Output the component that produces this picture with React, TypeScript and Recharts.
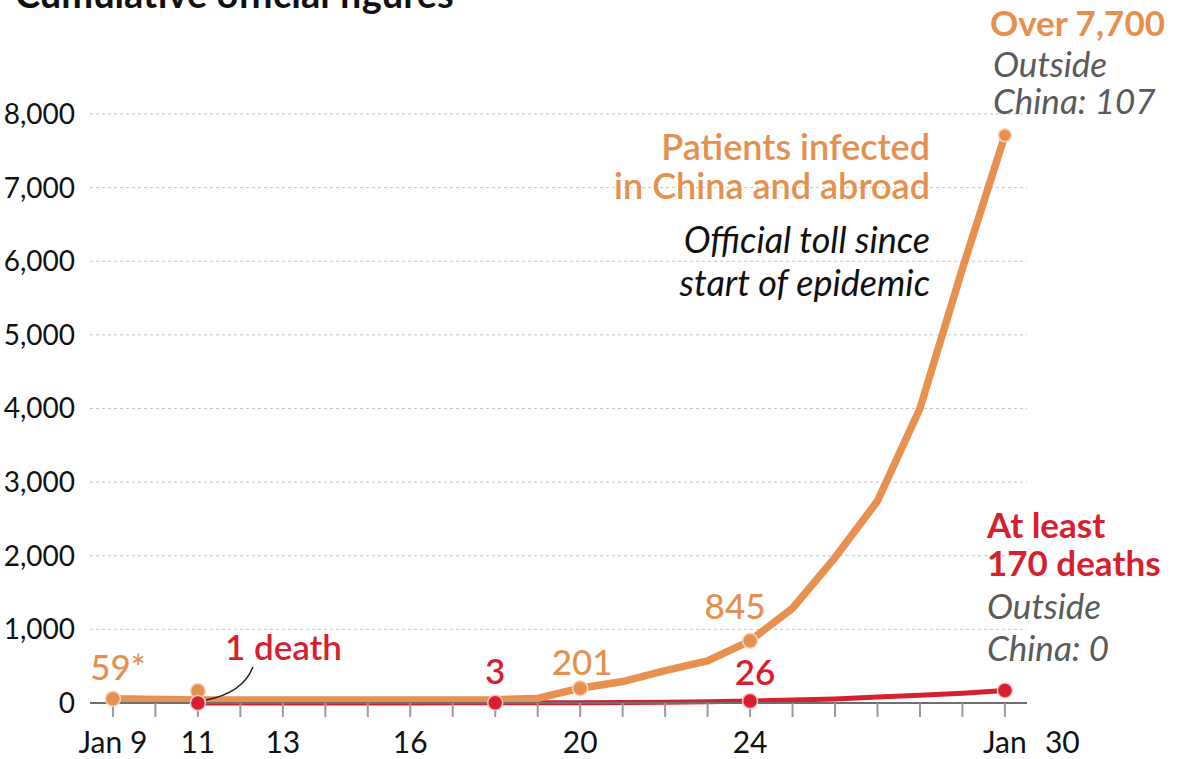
import React from 'react';
import { LineChart, Line, XAxis, YAxis, CartesianGrid } from 'recharts';

// ---------- data ----------
const days: number[] = [9, 10, 11, 12, 13, 14, 15, 16, 17, 18, 19, 20, 21, 22, 23, 24, 25, 26, 27, 28, 29, 30];
const infected: (number | null)[] = [59, null, 41, 41, 41, 41, 41, 41, 41, 45, 62, 201, 291, 440, 571, 845, 1287, 1975, 2744, 4000, 5900, 7711];
const deaths: (number | null)[] = [null, null, 1, 1, 1, 1, 1, 1, 2, 3, 3, 4, 6, 9, 17, 26, 41, 56, 80, 106, 132, 170];

const yTicks: number[] = [0, 1000, 2000, 3000, 4000, 5000, 6000, 7000, 8000];
const xLabelDays: number[] = [9, 11, 13, 16, 20, 24, 30];
const xLabelTexts: string[] = ['Jan 9', '11', '13', '16', '20', '24', 'Jan 30'];

const orangeDotDays: number[] = [9, 11, 20, 24, 30];
const redDotDays: number[] = [11, 18, 24, 30];

const orangeLabelDays: number[] = [9, 20, 24];
const orangeLabelTexts: string[] = ['59*', '201', '845'];
const redLabelDays: number[] = [11, 18, 24];
const redLabelTexts: string[] = ['1 death', '3', '26'];

const titleText = 'Cumulative official figures';
const infectedEndLines: string[] = ['Over 7,700', 'Outside', 'China: 107'];
const deathsEndLines: string[] = ['At least', '170 deaths', 'Outside', 'China: 0'];
const seriesNote1: string[] = ['Patients infected', 'in China and abroad'];
const seriesNote2: string[] = ['Official toll since', 'start of epidemic'];

const data = days.map((d, i) => ({ day: d, infected: infected[i], deaths: deaths[i] }));

// ---------- styles ----------
const ORANGE = '#E8904F';
const ORANGE_TEXT = '#E5904F';
const RED = '#D71F2F';
const GREY = '#5A5A5A';
const FONT = 'Lato, "Noto Sans", sans-serif';

const orangeLabelOffsets: Record<number, [number, number]> = { 9: [5, -19], 20: [2, -13], 24: [-15, -22] };
const redLabelOffsets: Record<number, [number, number, string]> = {
  11: [27, -43, 'start'],
  18: [0, -19, 'middle'],
  24: [5, -16, 'middle'],
};

function OrangeDot(props: any) {
  const { cx, cy, payload, index } = props;
  const key = `od-${index}`;
  if (cx == null || cy == null || payload == null || payload.infected == null) return <g key={key} />;
  const day = payload.day;
  if (!orangeDotDays.includes(day)) return <g key={key} />;
  const y = day === 11 ? cy - 9 : cy;
  const li = orangeLabelDays.indexOf(day);
  return (
    <g key={key}>
      <circle cx={cx} cy={y} r={day === 30 ? 6.5 : 7.5} fill={ORANGE} stroke="#f6d9c3" strokeWidth={1.5} />
      {li >= 0 && (
        <text
          x={cx + orangeLabelOffsets[day][0]}
          y={cy + orangeLabelOffsets[day][1]}
          textAnchor="middle"
          fontFamily={FONT}
          fontSize={35}
          fontWeight={500}
          fill={ORANGE_TEXT}
        >
          {orangeLabelTexts[li]}
        </text>
      )}
      {day === 30 && (
        <g fontFamily={FONT} fontSize={35}>
          <text x={cx - 15} y={cy - 99} fill={ORANGE_TEXT} fontWeight={700}>{infectedEndLines[0]}</text>
          <text x={cx - 12} y={cy - 58} fill={GREY} fontStyle="italic">{infectedEndLines[1]}</text>
          <text x={cx - 12} y={cy - 21} fill={GREY} fontStyle="italic">{infectedEndLines[2]}</text>
        </g>
      )}
    </g>
  );
}

function RedDot(props: any) {
  const { cx, cy, payload, index } = props;
  const key = `rd-${index}`;
  if (cx == null || cy == null || payload == null || payload.deaths == null) return <g key={key} />;
  const day = payload.day;
  if (!redDotDays.includes(day)) return <g key={key} />;
  const li = redLabelDays.indexOf(day);
  return (
    <g key={key}>
      {day === 11 && (
        <path
          d={`M ${cx + 8} ${cy - 3} Q ${cx + 45} ${cy - 10} ${cx + 55} ${cy - 36}`}
          fill="none"
          stroke="#222"
          strokeWidth={1.5}
        />
      )}
      <circle cx={cx} cy={cy} r={7.5} fill={RED} stroke="#f3c2c6" strokeWidth={1.5} />
      {li >= 0 && (
        <text
          x={cx + redLabelOffsets[day][0]}
          y={cy + redLabelOffsets[day][1]}
          textAnchor={redLabelOffsets[day][2] as any}
          fontFamily={FONT}
          fontSize={35}
          fontWeight={600}
          fill={RED}
        >
          {redLabelTexts[li]}
        </text>
      )}
      {day === 30 && (
        <g fontFamily={FONT} fontSize={35}>
          <text x={cx - 18} y={cy - 152} fill={RED} fontWeight={700}>{deathsEndLines[0]}</text>
          <text x={cx - 18} y={cy - 114} fill={RED} fontWeight={700}>{deathsEndLines[1]}</text>
          <text x={cx - 18} y={cy - 71} fill={GREY} fontStyle="italic">{deathsEndLines[2]}</text>
          <text x={cx - 18} y={cy - 29} fill={GREY} fontStyle="italic">{deathsEndLines[3]}</text>
        </g>
      )}
    </g>
  );
}

function XTick(props: any) {
  const { x, y, payload } = props;
  const v = payload?.value;
  const li = xLabelDays.indexOf(v);
  if (li < 0) return <g />;
  const label = xLabelTexts[li];
  const base = y + 36;
  if (label === 'Jan 30') {
    return (
      <g fontFamily={FONT} fontSize={30} fill="#111">
        <text x={x} y={base} textAnchor="middle">Jan</text>
        <text x={x + 40} y={base} textAnchor="start">30</text>
      </g>
    );
  }
  return (
    <text x={x} y={base} textAnchor="middle" fontFamily={FONT} fontSize={30} fill="#111">
      {label}
    </text>
  );
}

export default function App() {
  return (
    <div style={{ position: 'absolute', left: 0, top: 0, width: 1180, height: 759, background: '#fff', overflow: 'hidden' }}>
      <LineChart width={1180} height={759} data={data} margin={{ top: 114, right: 153, bottom: 0, left: 0 }}>
        <CartesianGrid vertical={false} stroke="#c4c4c4" strokeDasharray="3 3" strokeWidth={1} />
        <XAxis
          dataKey="day"
          type="number"
          domain={[8.46, 30.52]}
          ticks={days}
          interval={0}
          height={56}
          tickSize={14}
          tickMargin={0}
          axisLine={{ stroke: '#6f6f6f', strokeWidth: 2 }}
          tickLine={{ stroke: '#9a9a9a', strokeWidth: 2 }}
          tick={<XTick />}
        />
        <YAxis
          type="number"
          domain={[0, 8000]}
          ticks={yTicks}
          interval={0}
          width={90}
          axisLine={false}
          tickLine={false}
          tickSize={0}
          tickMargin={15}
          tickFormatter={(v: number) => v.toLocaleString('en-US')}
          tick={{ fontFamily: FONT, fontSize: 28, fill: '#111' }}
        />
        <Line
          dataKey="deaths"
          stroke={RED}
          strokeWidth={5}
          dot={false}
          activeDot={false}
          isAnimationActive={false}
          connectNulls
        />
        <Line
          dataKey="infected"
          stroke={ORANGE}
          strokeWidth={7.5}
          strokeLinejoin="round"
          dot={OrangeDot}
          activeDot={false}
          isAnimationActive={false}
          connectNulls
        />
        <Line
          dataKey="deaths"
          stroke="none"
          dot={RedDot}
          activeDot={false}
          isAnimationActive={false}
          connectNulls
        />
      </LineChart>
      <svg
        width={1180}
        height={759}
        style={{ position: 'absolute', left: 0, top: 0, pointerEvents: 'none' }}
      >
        <text x={15} y={8} fontFamily={FONT} fontSize={38} fontWeight={700} fill="#111">{titleText}</text>
        <g fontFamily={FONT} fontSize={36} textAnchor="end">
          <text x={930} y={160} fill={ORANGE_TEXT} fontWeight={600}>{seriesNote1[0]}</text>
          <text x={930} y={199} fill={ORANGE_TEXT} fontWeight={600}>{seriesNote1[1]}</text>
          <text x={930} y={253} fill="#111" fontStyle="italic">{seriesNote2[0]}</text>
          <text x={930} y={296} fill="#111" fontStyle="italic">{seriesNote2[1]}</text>
        </g>
      </svg>
    </div>
  );
}
